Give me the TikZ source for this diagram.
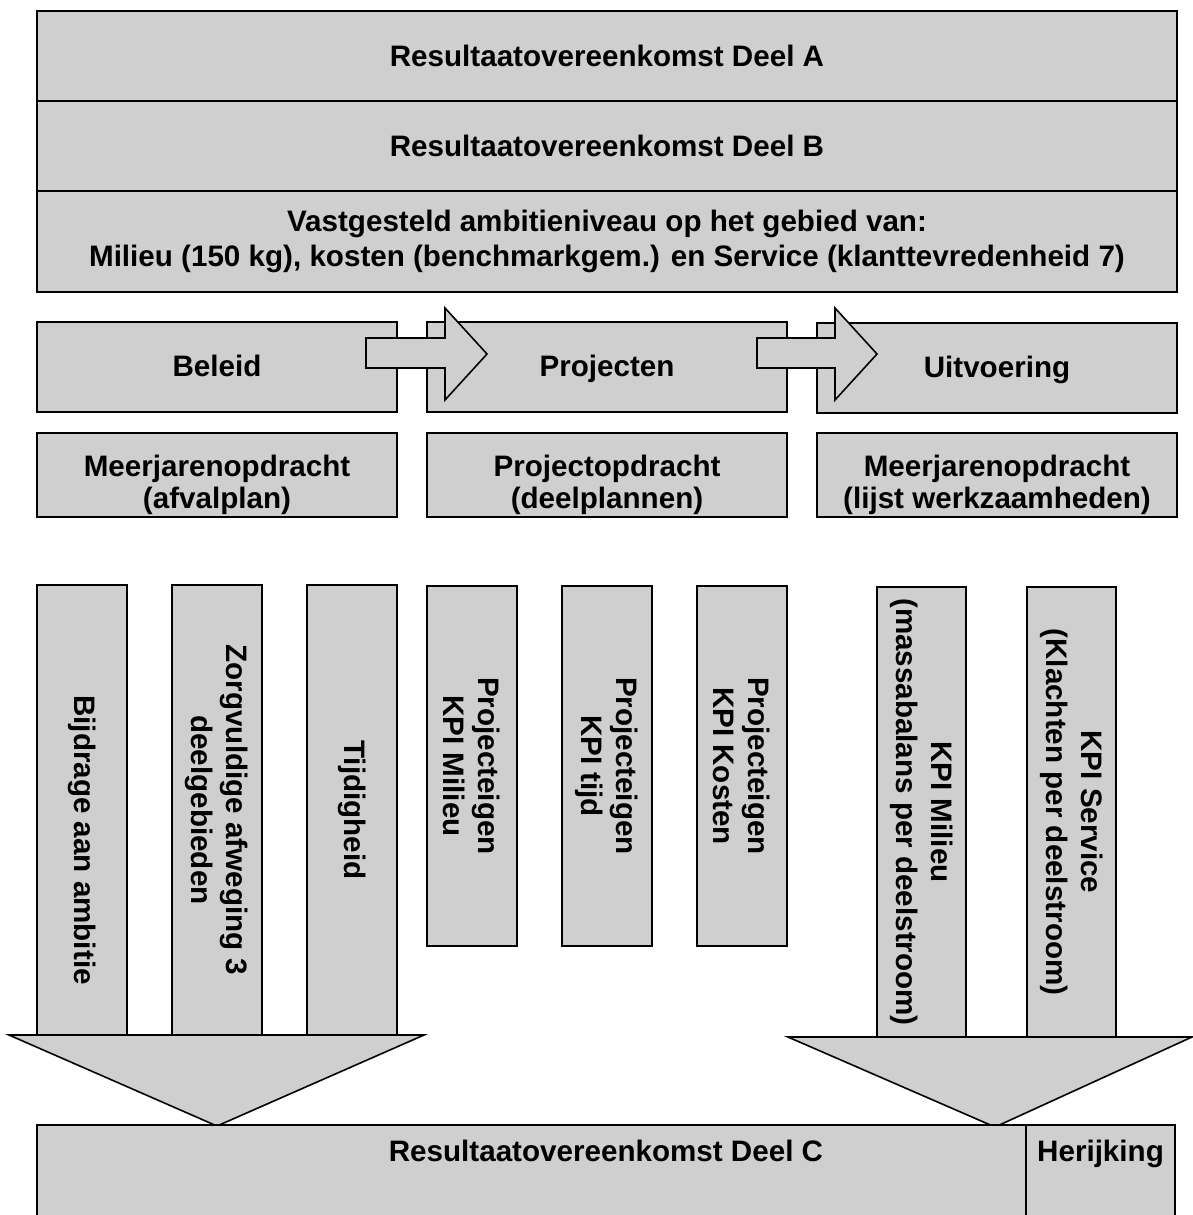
\documentclass[tikz,border=0pt]{standalone}
\usepackage{fontspec}
\setmainfont{Liberation Sans}
\definecolor{boxgray}{gray}{0.81}
\tikzset{
  boxstyle/.style={draw=black, fill=boxgray, line width=0.8pt, inner sep=0pt, align=center,
    font=\fontsize{14.8}{17.5}\selectfont\bfseries},
  phasestyle/.style={boxstyle, minimum width=180pt, minimum height=45pt, text height=0.9em, text depth=0pt},
  taskstyle/.style={boxstyle, minimum width=180pt, minimum height=42pt, font=\fontsize{14.8}{16}\selectfont\bfseries},
  colstyle/.style={boxstyle, rotate=-90, minimum height=45pt},
  blockarrow/.style={draw=black, fill=boxgray, line width=0.8pt, line join=miter},
}
\begin{document}
\begin{tikzpicture}[x=0.5pt,y=-0.5pt]
\useasboundingbox (0,0) rectangle (1193,1215);

% top block
\node[boxstyle, minimum width=570pt, minimum height=45pt] (dA) at (607,56) {Resultaatovereenkomst Deel A};
\node[boxstyle, minimum width=570pt, minimum height=45pt] (dB) at (607,146) {Resultaatovereenkomst Deel B};
\node[boxstyle, minimum width=570pt, minimum height=50.5pt] (amb) at (607,241.5) {Vastgesteld ambitieniveau op het gebied van:\\Milieu (150 kg), kosten (benchmarkgem.) en Service (klanttevredenheid 7)};

% phase row
\node[phasestyle] (bel) at (217,367) {Beleid};
\node[phasestyle] (proj) at (607,367) {Projecten};
\node[phasestyle] (uit) at (997,368) {Uitvoering};

% arrows
\draw[blockarrow] (366,338) -- (445,338) -- (445,308) -- (487,354) -- (445,400) -- (445,368) -- (366,368) -- cycle;
\draw[blockarrow] (757,338) -- (835,338) -- (835,308) -- (877,354) -- (835,400) -- (835,368) -- (757,368) -- cycle;

% assignment row
\node[taskstyle] (mj1) at (217,475) {\rule{0pt}{21pt}Meerjarenopdracht\\(afvalplan)};
\node[taskstyle] (pop) at (607,475) {\rule{0pt}{21pt}Projectopdracht\\(deelplannen)};
\node[taskstyle] (mj2) at (997,475) {\rule{0pt}{21pt}Meerjarenopdracht\\(lijst werkzaamheden)};

% left columns
\node[colstyle, minimum width=225pt] (c1) at (82,810) {\hspace*{30pt}Bijdrage aan ambitie};
\node[colstyle, minimum width=225pt] (c2) at (217,810) {Zorgvuldige afweging 3\\deelgebieden};
\node[colstyle, minimum width=225pt] (c3) at (352,810) {Tijdigheid};

% middle columns
\node[colstyle, minimum width=180pt] (c4) at (472,766) {Projecteigen\\KPI Milieu};
\node[colstyle, minimum width=180pt] (c5) at (607,766) {Projecteigen\\KPI tijd};
\node[colstyle, minimum width=180pt] (c6) at (742,766) {Projecteigen\\KPI Kosten};

% right columns
\node[colstyle, minimum width=225pt, minimum height=44.5pt] (c7) at (921.5,812) {KPI Milieu\\(massabalans per deelstroom)};
\node[colstyle, minimum width=225pt, minimum height=44.5pt] (c8) at (1071.5,812) {KPI Service\\(Klachten per deelstroom)};

% funnels
\draw[blockarrow] (9,1035) -- (424,1035) -- (217,1126) -- cycle;
\draw[blockarrow] (788,1037) -- (1192,1037) -- (995,1127) -- cycle;

% bottom block
\node[boxstyle, minimum width=569pt, minimum height=50pt] (dC) at (606,1175) {\raisebox{24pt}{Resultaatovereenkomst Deel C}};
\node[boxstyle, minimum width=74.5pt, minimum height=50pt] (her) at (1100.5,1175) {\raisebox{24pt}{Herijking}};
\end{tikzpicture}
\end{document}
